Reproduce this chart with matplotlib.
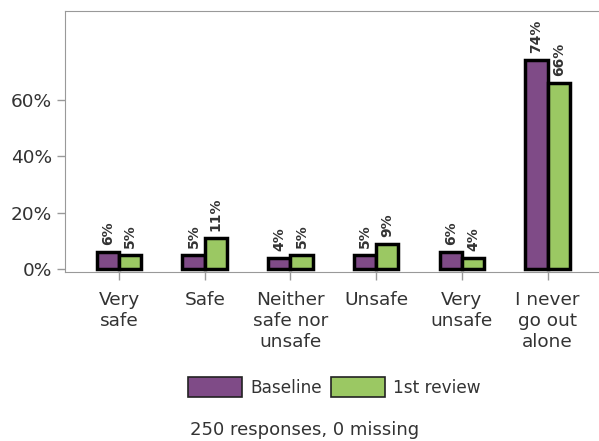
import numpy as np
import matplotlib
matplotlib.use('Agg')
import matplotlib.pyplot as plt
from matplotlib.patches import Patch

# data
categories = ['Very\nsafe', 'Safe', 'Neither\nsafe nor\nunsafe', 'Unsafe', 'Very\nunsafe', 'I never\ngo out\nalone']
baseline = [6, 5, 4, 5, 6, 74]
review = [5, 11, 5, 9, 4, 66]
series_names = ['Baseline', '1st review']
colors = ['#7f4b87', '#9bc863']
footnote = '250 responses, 0 missing'

fig = plt.figure(figsize=(5.99, 4.41), dpi=100)
ax = fig.add_axes([65/599, 1-271.5/441, 1-65/599, (271.5-11)/441])

x = np.arange(len(categories))
w = 0.26
for vals, off, c in [(baseline, -w/2, colors[0]), (review, w/2, colors[1])]:
    bars = ax.bar(x + off, vals, width=w, color=c, edgecolor='black', linewidth=2.5)
    for b, v in zip(bars, vals):
        ax.text(b.get_x() + b.get_width()/2, v + 2.6, f'{v}%', rotation=90,
                ha='center', va='bottom', fontsize=10, fontweight='semibold', color='#333333')

ax.set_xlim(-0.63, 5.6)
ax.set_ylim(-0.8, 91.5)
ax.set_yticks([0, 20, 40, 60])
ax.set_yticklabels(['0%', '20%', '40%', '60%'])
ax.set_xticks(x)
ax.set_xticklabels(categories, linespacing=1.2)
ax.tick_params(axis='both', colors='#999999', labelcolor='#333333', labelsize=13.3, length=6, width=1)
ax.tick_params(axis='x', pad=8)
for s in ['left', 'top', 'bottom']:
    ax.spines[s].set_color('#999999')
ax.spines['right'].set_visible(False)

handles = [Patch(facecolor=c, edgecolor='#222222', linewidth=1.2) for c in colors]
fig.legend(handles, series_names, loc='center', bbox_to_anchor=(0.558, 1-387/441), ncol=2,
           frameon=False, fontsize=12.2, handlelength=3.2, handleheight=1.4,
           handletextpad=0.5, columnspacing=0.5, labelcolor='#333333')
fig.text(190/599, 1-430/441, footnote, fontsize=13, color='#333333', va='center', ha='left')

plt.savefig('out.png', dpi=100)
